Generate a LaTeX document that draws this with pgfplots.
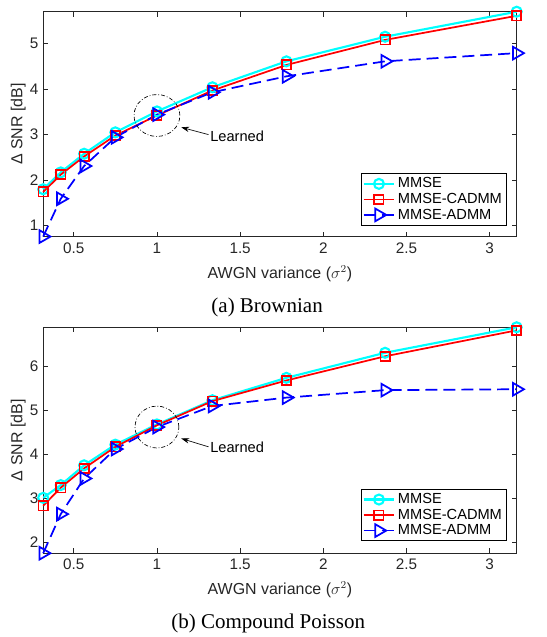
\documentclass[border=0pt]{standalone}
\usepackage{fontspec}
\setmainfont{Liberation Serif}
\setsansfont{Liberation Sans}
\usepackage{pgfplots}
\pgfplotsset{compat=1.18}
\usetikzlibrary{arrows.meta}

\definecolor{axgray}{RGB}{38,38,38}
\definecolor{mcyan}{RGB}{0,255,255}
\definecolor{mred}{RGB}{255,0,0}
\definecolor{mblue}{RGB}{0,0,255}

\pgfplotsset{
  snrax/.style={
    scale only axis, width=356.25pt,
    xmin=0.3162, xmax=3.1623,
    xtick={0.5,1,1.5,2,2.5,3},
    clip=false,
    axis line style={axgray, line width=0.5pt},
    major tick style={axgray, line width=0.5pt},
    major tick length=3.75pt,
    tick align=inside,
    font=\sffamily,
    ticklabel style={font=\sffamily\fontsize{11.5}{13}\selectfont, text=axgray},
    /pgf/number format/assume math mode=true,
    xticklabel style={yshift=-1pt},
    label style={font=\sffamily\fontsize{12}{14}\selectfont, text=axgray},
    xlabel={AWGN variance ($\sigma^2$)},
    ylabel={Δ SNR [dB]},
    ylabel style={at={(axis description cs:-0.0526,0.5)}, anchor=center, rotate=0},
    legend style={font=\sffamily\fontsize{11}{12.5}\selectfont, draw=black,
      line width=0.5pt, fill=white, cells={anchor=west}, inner sep=1pt,
      row sep=-1.5pt},
    legend image code/.code={%
      \draw[mark repeat=2,mark phase=2] plot coordinates {(0pt,0pt) (11.5pt,0pt) (23pt,0pt)};},
  },
  mmse/.style={mcyan, line width=1.6pt, mark=o, mark size=3.75pt, mark options={solid}},
  cadmm/.style={mred, line width=1.3pt, mark=square, mark size=3.5pt, mark options={solid}},
  admm/.style={mblue, line width=1.3pt, dash pattern=on 9pt off 4.5pt, mark=triangle,
    mark size=5.5pt, mark options={solid, rotate=-90}},
}

\begin{document}
\begin{tikzpicture}
\path (-32.5pt,8.8pt) rectangle (378.5pt,-469pt);

% (a) Brownian
\begin{axis}[snrax, name=top, at={(0,0)}, anchor=north west,
  height=169.2pt, ymin=0.76, ymax=5.70, ytick={1,2,3,4,5},
  xlabel style={at={(axis description cs:0.5,-0.164)}, anchor=center},
  legend style={at={(0.978,0.05)}, anchor=south east},
]
\addplot[mmse] coordinates {(0.3162,1.80) (0.4217,2.17) (0.5623,2.58) (0.7499,3.05) (1,3.51) (1.3335,4.04) (1.7783,4.61) (2.3714,5.15) (3.1623,5.70)};
\addplot[cadmm] coordinates {(0.3162,1.74) (0.4217,2.12) (0.5623,2.52) (0.7499,2.98) (1,3.42) (1.3335,3.97) (1.7783,4.53) (2.3714,5.08) (3.1623,5.61)};
\addplot[admm] coordinates {(0.3162,0.76) (0.4217,1.59) (0.5623,2.31) (0.7499,2.94) (1,3.44) (1.3335,3.93) (1.7783,4.28) (2.3714,4.61) (3.1623,4.79)};
\legend{MMSE, MMSE-CADMM, MMSE-ADMM}
\draw[black, line width=0.5pt, dash pattern=on 3pt off 1.5pt on 0.6pt off 1.5pt] (axis cs:1,3.42) ellipse [x radius=17.25pt, y radius=15.75pt];
\draw[black, line width=0.5pt, -{Stealth[length=6pt,width=4pt]}] (axis cs:1.31,3.0) -- (axis cs:1.146,3.16);
\node[anchor=west, font=\sffamily\fontsize{11}{13}\selectfont, text=black, inner sep=0.5pt] at (axis cs:1.315,2.96) {Learned};
\end{axis}

% (b) Compound Poisson
\begin{axis}[snrax, name=bot, at={(0,-237.45pt)}, anchor=north west,
  height=170pt, ymin=1.75, ymax=6.89, ytick={2,3,4,5,6},
  xlabel style={at={(axis description cs:0.5,-0.162)}, anchor=center},
  legend style={at={(0.978,0.054)}, anchor=south east},
]
\addplot[mmse] coordinates {(0.3162,3.01) (0.4217,3.30) (0.5623,3.75) (0.7499,4.22) (1,4.68) (1.3335,5.23) (1.7783,5.74) (2.3714,6.31) (3.1623,6.89)};
\addplot[cadmm] coordinates {(0.3162,2.83) (0.4217,3.24) (0.5623,3.68) (0.7499,4.17) (1,4.66) (1.3335,5.21) (1.7783,5.68) (2.3714,6.23) (3.1623,6.82)};
\addplot[admm] coordinates {(0.3162,1.75) (0.4217,2.64) (0.5623,3.45) (0.7499,4.12) (1,4.62) (1.3335,5.10) (1.7783,5.29) (2.3714,5.46) (3.1623,5.48)};
\legend{MMSE, MMSE-CADMM, MMSE-ADMM}
\draw[black, line width=0.5pt, dash pattern=on 3pt off 1.5pt on 0.6pt off 1.5pt] (axis cs:1,4.62) ellipse [x radius=16.5pt, y radius=15.75pt];
\draw[black, line width=0.5pt, -{Stealth[length=6pt,width=4pt]}] (axis cs:1.31,4.17) -- (axis cs:1.146,4.36);
\node[anchor=west, font=\sffamily\fontsize{11}{13}\selectfont, text=black, inner sep=0.5pt] at (axis cs:1.315,4.15) {Learned};
\end{axis}

\node[font=\fontsize{15.8}{18}\selectfont] at (168.5pt,-222.2pt) {(a) Brownian};
\node[font=\fontsize{15.8}{18}\selectfont] at (169.3pt,-460pt) {(b) Compound Poisson};
\end{tikzpicture}
\end{document}
